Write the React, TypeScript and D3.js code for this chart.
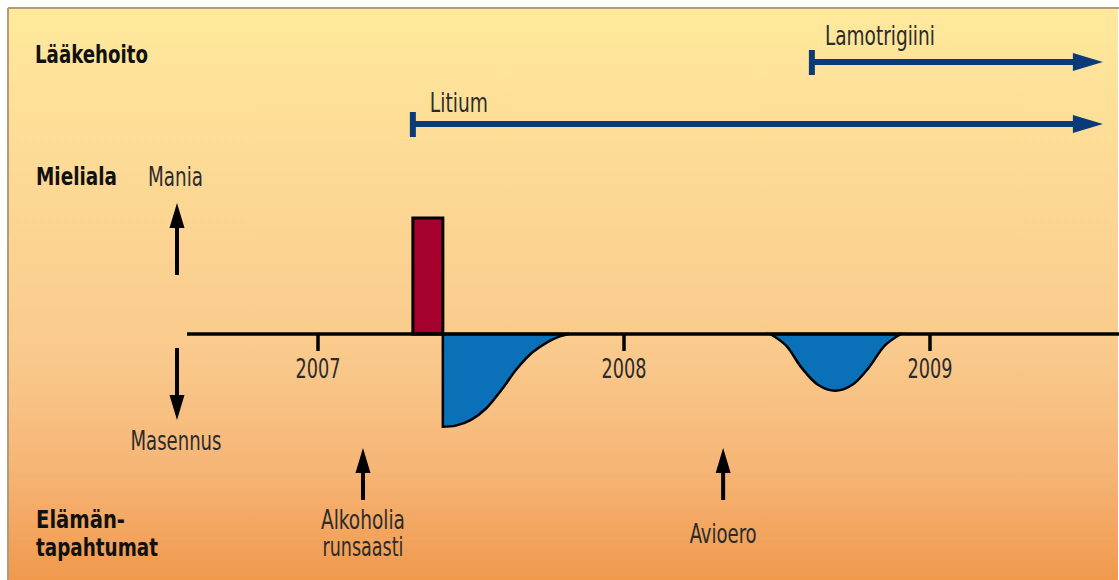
import * as d3 from 'd3';

// Aikajana (vuodet desimaaleina)
const yearTicks = [2007, 2008, 2009];

// Lääkehoito
const medNames = ['Lamotrigiini', 'Litium'];
const medStart = [2008.614, 2007.31];
const medEnd = 2009.565;

// Mieliala: maniajakso
const maniaStart = 2007.31;
const maniaEnd = 2007.408;
const maniaLevel = 1;

// Mieliala: masennusjaksot
const dep1Years = [2007.408, 2007.45, 2007.5, 2007.55, 2007.6, 2007.65, 2007.7, 2007.75, 2007.79, 2007.82];
const dep1Values = [-0.8, -0.79, -0.74, -0.64, -0.48, -0.3, -0.16, -0.07, -0.02, 0];
const dep2Years = [2008.478, 2008.53, 2008.58, 2008.635, 2008.69, 2008.745, 2008.8, 2008.852, 2008.905];
const dep2Values = [0, -0.1, -0.29, -0.44, -0.49, -0.44, -0.29, -0.1, 0];

// Elämäntapahtumat
const eventYears = [2007.147, 2008.324];
const eventLabels = [['Alkoholia', 'runsaasti'], ['Avioero']];

const W = 1119;
const H = 580;
const FONT = '"Liberation Sans Narrow", "DejaVu Sans Condensed", "Roboto Condensed", Roboto, sans-serif';

const x = d3.scaleLinear().domain([2007, 2008]).range([318, 624]);
const axisY = 334;
const y = d3.scaleLinear().domain([0, 1]).range([axisY, 218]);

const depArea = d3.area<[number, number]>()
  .x(d => x(d[0]))
  .y0(axisY)
  .y1(d => y(d[1]))
  .curve(d3.curveCatmullRom.alpha(0.5));

function upArrow(cx: number, tip: number, tail: number, key: string) {
  return (
    <g key={key}>
      <line x1={cx} x2={cx} y1={tip + 20} y2={tail} stroke="#000" strokeWidth={4} />
      <path d={`M${cx},${tip} L${cx - 7.5},${tip + 25} L${cx + 7.5},${tip + 25} Z`} fill="#000" />
    </g>
  );
}

function downArrow(cx: number, tip: number, tail: number) {
  return (
    <g>
      <line x1={cx} x2={cx} y1={tail} y2={tip - 20} stroke="#000" strokeWidth={4} />
      <path d={`M${cx},${tip} L${cx - 7.5},${tip - 25} L${cx + 7.5},${tip - 25} Z`} fill="#000" />
    </g>
  );
}

function Txt(props: { x: number; y: number; w: number; bold?: boolean; anchor?: string; children: string }) {
  return (
    <text
      x={props.x}
      y={props.y}
      textAnchor={props.anchor || 'start'}
      fontFamily={FONT}
      fontSize={props.bold ? 25 : 26}
      fontWeight={props.bold ? 'bold' : 'normal'}
      fill={props.bold ? '#111' : '#2b2b2b'}
      textLength={props.w}
      lengthAdjust="spacingAndGlyphs"
    >
      {props.children}
    </text>
  );
}

export default function App() {
  const medY = [62, 124];
  const dep1 = dep1Years.map((d, i) => [d, dep1Values[i]] as [number, number]);
  const dep2 = dep2Years.map((d, i) => [d, dep2Values[i]] as [number, number]);

  return (
    <svg width={W} height={H} style={{ position: 'absolute', left: 0, top: 0 }}>
      <defs>
        <linearGradient id="bg" x1="0" y1="0" x2="0" y2="1">
          <stop offset="0" stopColor="#FFE99C" />
          <stop offset="0.3" stopColor="#FDD995" />
          <stop offset="0.6" stopColor="#F9CA8C" />
          <stop offset="0.8" stopColor="#F6B677" />
          <stop offset="1" stopColor="#F0994D" />
        </linearGradient>
      </defs>
      <rect x={0} y={0} width={W} height={H} fill="#fff" />
      <rect x={8} y={8} width={W - 9} height={H - 8} fill="url(#bg)" />
      <line x1={8} x2={W} y1={8} y2={8} stroke="#B49B78" strokeWidth={2} />
      <line x1={8} x2={8} y1={8} y2={H} stroke="#B49B78" strokeWidth={2} />

      {/* Rivien otsikot */}
      <Txt x={35} y={63} w={113} bold>Lääkehoito</Txt>
      <Txt x={36} y={185} w={81} bold>Mieliala</Txt>
      <Txt x={36} y={528} w={89} bold>Elämän-</Txt>
      <Txt x={36} y={556} w={122} bold>tapahtumat</Txt>

      {/* Lääkkeet */}
      {medNames.map((name, i) => {
        const x0 = x(medStart[i]);
        const x1 = x(medEnd);
        const yy = medY[i];
        return (
          <g key={name}>
            <line x1={x0} x2={x1 - 22} y1={yy} y2={yy} stroke="#0B3A78" strokeWidth={6} />
            <line x1={x0} x2={x0} y1={yy - 12} y2={yy + 13} stroke="#0B3A78" strokeWidth={6} />
            <path d={`M${x1},${yy} L${x1 - 30},${yy - 9} L${x1 - 30},${yy + 9} Z`} fill="#0B3A78" />
            <Txt x={x0 + (i === 0 ? 13 : 17)} y={yy - (i === 0 ? 17 : 12)} w={i === 0 ? 110 : 58}>{name}</Txt>
          </g>
        );
      })}

      {/* Mieliala */}
      <Txt x={148} y={186} w={55}>Mania</Txt>
      {upArrow(177, 203, 275, 'mania')}
      {downArrow(177, 420, 348)}
      <Txt x={176} y={450} w={91} anchor="middle">Masennus</Txt>

      <path d={depArea(dep1) || ''} fill="#0A70B8" stroke="#000" strokeWidth={2.5} />
      <path d={depArea(dep2) || ''} fill="#0A70B8" stroke="#000" strokeWidth={2.5} />
      <rect
        x={x(maniaStart)}
        y={y(maniaLevel)}
        width={x(maniaEnd) - x(maniaStart)}
        height={axisY - y(maniaLevel)}
        fill="#A6002C"
        stroke="#000"
        strokeWidth={3}
      />

      <line x1={187} x2={W} y1={axisY} y2={axisY} stroke="#000" strokeWidth={3.5} />
      {yearTicks.map(t => (
        <g key={t}>
          <line x1={x(t)} x2={x(t)} y1={axisY} y2={351} stroke="#000" strokeWidth={3.5} />
          <Txt x={x(t)} y={378} w={45} anchor="middle">{String(t)}</Txt>
        </g>
      ))}

      {/* Elämäntapahtumat */}
      {eventYears.map((ev, i) => (
        <g key={ev}>
          {upArrow(x(ev), 448, 500, 'ev' + i)}
          {eventLabels[i].length === 2 ? (
            <>
              <Txt x={x(ev)} y={529} w={84} anchor="middle">{eventLabels[i][0]}</Txt>
              <Txt x={x(ev)} y={556} w={81} anchor="middle">{eventLabels[i][1]}</Txt>
            </>
          ) : (
            <Txt x={x(ev)} y={543} w={67} anchor="middle">{eventLabels[i][0]}</Txt>
          )}
        </g>
      ))}
    </svg>
  );
}
